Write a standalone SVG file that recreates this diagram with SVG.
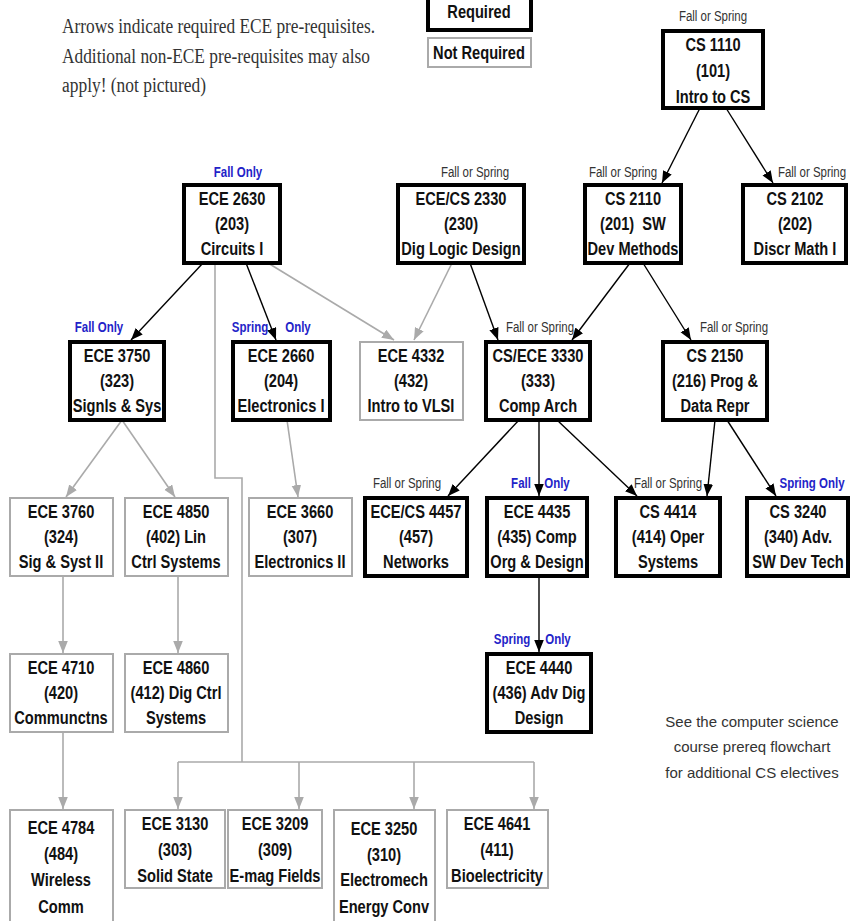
<svg xmlns="http://www.w3.org/2000/svg" width="850" height="921" viewBox="0 0 850 921">
<defs>
<style>
.req{fill:#fff;stroke:#000;stroke-width:4}
.nreq{fill:#fff;stroke:#aaa;stroke-width:2}
.t{font-family:"Liberation Sans",Arial,sans-serif;font-weight:bold;font-size:19px;text-anchor:middle;fill:#111}
.fs{font-family:"Liberation Sans",Arial,sans-serif;font-size:14px;text-anchor:middle;fill:#333}
.bl{font-family:"Liberation Sans",Arial,sans-serif;font-weight:bold;font-size:14px;text-anchor:middle;fill:#2323c8}
.note{font-family:"Liberation Serif","Times New Roman",serif;font-size:20px;fill:#333}
.cs{font-family:"Liberation Sans",Arial,sans-serif;font-size:15px;text-anchor:middle;fill:#333}
.kb{stroke:#000;stroke-width:1.4;fill:none}
.kg{stroke:#aaa;stroke-width:1.6;fill:none}
</style>
<marker id="ab" viewBox="0 0 10 8" refX="10" refY="4" markerWidth="12" markerHeight="10" markerUnits="userSpaceOnUse" orient="auto"><path d="M0,0 L10,4 L0,8 z" fill="#000"/></marker>
<marker id="ag" viewBox="0 0 10 8" refX="10" refY="4" markerWidth="12" markerHeight="10" markerUnits="userSpaceOnUse" orient="auto"><path d="M0,0 L10,4 L0,8 z" fill="#aaa"/></marker>
</defs>
<rect width="850" height="921" fill="#fff"/>

<g id="note">
<text class="note" x="62" y="33" textLength="313" lengthAdjust="spacingAndGlyphs">Arrows indicate required ECE pre-requisites.</text>
<text class="note" x="62" y="63" textLength="308" lengthAdjust="spacingAndGlyphs">Additional non-ECE pre-requisites may also</text>
<text class="note" x="62" y="92" textLength="144" lengthAdjust="spacingAndGlyphs">apply! (not pictured)</text>
</g>
<g id="legend-required"><rect class="req" x="428" y="-10" width="103" height="40"/><g transform="matrix(0.77 0 0 1 479 0)"><text class="t" x="0" y="18">Required</text></g></g>
<g id="legend-notrequired"><rect class="nreq" x="428" y="38" width="103" height="29"/><g transform="matrix(0.77 0 0 1 479 0)"><text class="t" x="0" y="59">Not Required</text></g></g>

<g id="connectors">
<line class="kb" x1="700" y1="108" x2="662" y2="183" marker-end="url(#ab)"/>
<line class="kb" x1="726" y1="108" x2="773" y2="183" marker-end="url(#ab)"/>
<line class="kb" x1="203" y1="263" x2="131" y2="340" marker-end="url(#ab)"/>
<line class="kb" x1="246" y1="263" x2="276" y2="340" marker-end="url(#ab)"/>
<line class="kg" x1="268" y1="263" x2="394" y2="340" marker-end="url(#ag)"/>
<line class="kg" x1="452" y1="263" x2="414" y2="340" marker-end="url(#ag)"/>
<line class="kb" x1="470" y1="263" x2="498" y2="340" marker-end="url(#ab)"/>
<line class="kb" x1="630" y1="263" x2="572" y2="340" marker-end="url(#ab)"/>
<line class="kb" x1="643" y1="263" x2="691" y2="340" marker-end="url(#ab)"/>
<line class="kb" x1="519" y1="420" x2="448" y2="496" marker-end="url(#ab)"/>
<line class="kb" x1="539" y1="420" x2="539" y2="496" marker-end="url(#ab)"/>
<line class="kb" x1="557" y1="420" x2="637" y2="496" marker-end="url(#ab)"/>
<line class="kb" x1="715" y1="420" x2="707" y2="496" marker-end="url(#ab)"/>
<line class="kb" x1="727" y1="420" x2="776" y2="496" marker-end="url(#ab)"/>
<line class="kb" x1="539" y1="576" x2="539" y2="652" marker-end="url(#ab)"/>
<line class="kg" x1="122" y1="420" x2="66" y2="497" marker-end="url(#ag)"/>
<line class="kg" x1="122" y1="420" x2="175" y2="497" marker-end="url(#ag)"/>
<line class="kg" x1="287" y1="420" x2="298" y2="497" marker-end="url(#ag)"/>
<line class="kg" x1="63" y1="576" x2="63" y2="653" marker-end="url(#ag)"/>
<line class="kg" x1="178" y1="576" x2="178" y2="653" marker-end="url(#ag)"/>
<line class="kg" x1="63" y1="732" x2="63" y2="809" marker-end="url(#ag)"/>
<polyline class="kg" points="215,263 215,478 242,478 242,762"/>
<line class="kg" x1="178" y1="762" x2="534" y2="762"/>
<line class="kg" x1="178" y1="762" x2="178" y2="809" marker-end="url(#ag)"/>
<line class="kg" x1="299" y1="762" x2="299" y2="809" marker-end="url(#ag)"/>
<line class="kg" x1="414" y1="762" x2="414" y2="809" marker-end="url(#ag)"/>
<line class="kg" x1="534" y1="762" x2="534" y2="809" marker-end="url(#ag)"/>
</g>

<g id="cs1110"><text class="fs" transform="matrix(0.82 0 0 1 713 0)" x="0" y="21">Fall or Spring</text><rect class="req" x="663" y="31" width="100" height="77"/><g transform="matrix(0.77 0 0 1 713 0)"><text class="t" x="0" y="51">CS 1110</text><text class="t" x="0" y="77">(101)</text><text class="t" x="0" y="103">Intro to CS</text></g></g>

<g id="ece2630"><text class="bl" transform="matrix(0.82 0 0 1 238 0)" x="0" y="177">Fall Only</text><rect class="req" x="184" y="185" width="96" height="78"/><g transform="matrix(0.77 0 0 1 232 0)"><text class="t" x="0" y="205">ECE 2630</text><text class="t" x="0" y="230">(203)</text><text class="t" x="0" y="255">Circuits I</text></g></g>
<g id="ece2330"><text class="fs" transform="matrix(0.82 0 0 1 475 0)" x="0" y="177">Fall or Spring</text><rect class="req" x="398" y="185" width="126" height="78"/><g transform="matrix(0.77 0 0 1 461 0)"><text class="t" x="0" y="205">ECE/CS 2330</text><text class="t" x="0" y="230">(230)</text><text class="t" x="0" y="255">Dig Logic Design</text></g></g>
<g id="cs2110"><text class="fs" transform="matrix(0.82 0 0 1 623 0)" x="0" y="177">Fall or Spring</text><rect class="req" x="585" y="185" width="96" height="78"/><g transform="matrix(0.77 0 0 1 633 0)"><text class="t" x="0" y="205">CS 2110</text><text class="t" x="0" y="230" xml:space="preserve">(201)  SW</text><text class="t" x="0" y="255">Dev Methods</text></g></g>
<g id="cs2102"><text class="fs" transform="matrix(0.82 0 0 1 812 0)" x="0" y="177">Fall or Spring</text><rect class="req" x="743" y="185" width="103" height="78"/><g transform="matrix(0.77 0 0 1 795 0)"><text class="t" x="0" y="205">CS 2102</text><text class="t" x="0" y="230">(202)</text><text class="t" x="0" y="255">Discr Math I</text></g></g>

<g id="ece3750"><text class="bl" transform="matrix(0.82 0 0 1 99 0)" x="0" y="332">Fall Only</text><rect class="req" x="70" y="342" width="94" height="78"/><g transform="matrix(0.77 0 0 1 117 0)"><text class="t" x="0" y="362">ECE 3750</text><text class="t" x="0" y="387">(323)</text><text class="t" x="0" y="412">Signls &amp; Sys</text></g></g>
<g id="ece2660"><text class="bl" transform="matrix(0.82 0 0 1 250 0)" x="0" y="332">Spring</text><text class="bl" transform="matrix(0.82 0 0 1 298 0)" x="0" y="332">Only</text><rect class="req" x="233" y="342" width="97" height="78"/><g transform="matrix(0.77 0 0 1 281 0)"><text class="t" x="0" y="362">ECE 2660</text><text class="t" x="0" y="387">(204)</text><text class="t" x="0" y="412">Electronics I</text></g></g>
<g id="ece4332"><rect class="nreq" x="360" y="342" width="103" height="78"/><g transform="matrix(0.77 0 0 1 411 0)"><text class="t" x="0" y="362">ECE 4332</text><text class="t" x="0" y="387">(432)</text><text class="t" x="0" y="412">Intro to VLSI</text></g></g>
<g id="cs3330"><text class="fs" transform="matrix(0.82 0 0 1 540 0)" x="0" y="332">Fall or Spring</text><rect class="req" x="486" y="342" width="104" height="78"/><g transform="matrix(0.77 0 0 1 538 0)"><text class="t" x="0" y="362">CS/ECE 3330</text><text class="t" x="0" y="387">(333)</text><text class="t" x="0" y="412">Comp Arch</text></g></g>
<g id="cs2150"><text class="fs" transform="matrix(0.82 0 0 1 734 0)" x="0" y="332">Fall or Spring</text><rect class="req" x="663" y="342" width="104" height="78"/><g transform="matrix(0.77 0 0 1 715 0)"><text class="t" x="0" y="362">CS 2150</text><text class="t" x="0" y="387">(216) Prog &amp;</text><text class="t" x="0" y="412">Data Repr</text></g></g>

<g id="ece3760"><rect class="nreq" x="10" y="498" width="103" height="78"/><g transform="matrix(0.77 0 0 1 61 0)"><text class="t" x="0" y="518">ECE 3760</text><text class="t" x="0" y="543">(324)</text><text class="t" x="0" y="568">Sig &amp; Syst II</text></g></g>
<g id="ece4850"><rect class="nreq" x="125" y="498" width="103" height="78"/><g transform="matrix(0.77 0 0 1 176 0)"><text class="t" x="0" y="518">ECE 4850</text><text class="t" x="0" y="543">(402) Lin</text><text class="t" x="0" y="568">Ctrl Systems</text></g></g>
<g id="ece3660"><rect class="nreq" x="249" y="498" width="103" height="78"/><g transform="matrix(0.77 0 0 1 300 0)"><text class="t" x="0" y="518">ECE 3660</text><text class="t" x="0" y="543">(307)</text><text class="t" x="0" y="568">Electronics II</text></g></g>
<g id="ece4457"><text class="fs" transform="matrix(0.82 0 0 1 407 0)" x="0" y="488">Fall or Spring</text><rect class="req" x="365" y="498" width="102" height="78"/><g transform="matrix(0.77 0 0 1 416 0)"><text class="t" x="0" y="518">ECE/CS 4457</text><text class="t" x="0" y="543">(457)</text><text class="t" x="0" y="568">Networks</text></g></g>
<g id="ece4435"><text class="bl" transform="matrix(0.82 0 0 1 521 0)" x="0" y="488">Fall</text><text class="bl" transform="matrix(0.82 0 0 1 557 0)" x="0" y="488">Only</text><rect class="req" x="487" y="498" width="100" height="78"/><g transform="matrix(0.77 0 0 1 537 0)"><text class="t" x="0" y="518">ECE 4435</text><text class="t" x="0" y="543">(435) Comp</text><text class="t" x="0" y="568">Org &amp; Design</text></g></g>
<g id="cs4414"><text class="fs" transform="matrix(0.82 0 0 1 668 0)" x="0" y="488">Fall or Spring</text><rect class="req" x="616" y="498" width="104" height="78"/><g transform="matrix(0.77 0 0 1 668 0)"><text class="t" x="0" y="518">CS 4414</text><text class="t" x="0" y="543">(414) Oper</text><text class="t" x="0" y="568">Systems</text></g></g>
<g id="cs3240"><text class="bl" transform="matrix(0.82 0 0 1 812 0)" x="0" y="488">Spring Only</text><rect class="req" x="747" y="498" width="101" height="78"/><g transform="matrix(0.77 0 0 1 798 0)"><text class="t" x="0" y="518">CS 3240</text><text class="t" x="0" y="543">(340) Adv.</text><text class="t" x="0" y="568">SW Dev Tech</text></g></g>

<g id="ece4710"><rect class="nreq" x="10" y="654" width="103" height="78"/><g transform="matrix(0.77 0 0 1 61 0)"><text class="t" x="0" y="674">ECE 4710</text><text class="t" x="0" y="699">(420)</text><text class="t" x="0" y="724">Communctns</text></g></g>
<g id="ece4860"><rect class="nreq" x="125" y="654" width="103" height="78"/><g transform="matrix(0.77 0 0 1 176 0)"><text class="t" x="0" y="674">ECE 4860</text><text class="t" x="0" y="699">(412) Dig Ctrl</text><text class="t" x="0" y="724">Systems</text></g></g>
<g id="ece4440"><text class="bl" transform="matrix(0.82 0 0 1 512 0)" x="0" y="644">Spring</text><text class="bl" transform="matrix(0.82 0 0 1 558 0)" x="0" y="644">Only</text><rect class="req" x="487" y="654" width="104" height="78"/><g transform="matrix(0.77 0 0 1 539 0)"><text class="t" x="0" y="674">ECE 4440</text><text class="t" x="0" y="699">(436) Adv Dig</text><text class="t" x="0" y="724">Design</text></g></g>

<g id="csnote"><text class="cs" x="752" y="727">See the computer science</text><text class="cs" x="752" y="752">course prereq flowchart</text><text class="cs" x="752" y="778">for additional CS electives</text></g>

<g id="ece4784"><rect class="nreq" x="10" y="810" width="103" height="120"/><g transform="matrix(0.77 0 0 1 61 0)"><text class="t" x="0" y="834">ECE 4784</text><text class="t" x="0" y="860">(484)</text><text class="t" x="0" y="886">Wireless</text><text class="t" x="0" y="913">Comm</text></g></g>
<g id="ece3130"><rect class="nreq" x="125" y="810" width="100" height="78"/><g transform="matrix(0.77 0 0 1 175 0)"><text class="t" x="0" y="830">ECE 3130</text><text class="t" x="0" y="856">(303)</text><text class="t" x="0" y="882">Solid State</text></g></g>
<g id="ece3209"><rect class="nreq" x="228" y="810" width="94" height="78"/><g transform="matrix(0.77 0 0 1 275 0)"><text class="t" x="0" y="830">ECE 3209</text><text class="t" x="0" y="856">(309)</text><text class="t" x="0" y="882">E-mag Fields</text></g></g>
<g id="ece3250"><rect class="nreq" x="334" y="810" width="101" height="120"/><g transform="matrix(0.77 0 0 1 384 0)"><text class="t" x="0" y="835">ECE 3250</text><text class="t" x="0" y="861">(310)</text><text class="t" x="0" y="886">Electromech</text><text class="t" x="0" y="913">Energy Conv</text></g></g>
<g id="ece4641"><rect class="nreq" x="447" y="810" width="101" height="78"/><g transform="matrix(0.77 0 0 1 497 0)"><text class="t" x="0" y="830">ECE 4641</text><text class="t" x="0" y="856">(411)</text><text class="t" x="0" y="882">Bioelectricity</text></g></g>
</svg>
